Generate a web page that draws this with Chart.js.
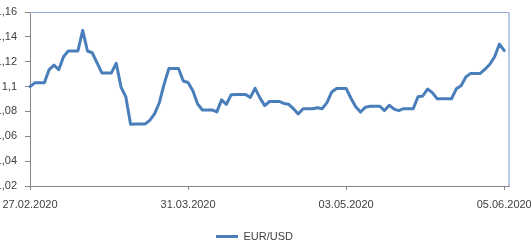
<!DOCTYPE html>
<html><head><meta charset="utf-8">
<script src="https://cdn.jsdelivr.net/npm/chart.js@4/dist/chart.umd.min.js"></script>
<style>html,body{margin:0;padding:0;background:#fff;overflow:hidden}#wrap{width:531px;height:249px;position:relative}</style>
</head><body><div id="wrap"><canvas id="c" width="531" height="249"></canvas></div>
<script>
// Categories: one per calendar day
const dates = [
'27.02.2020','28.02.2020','29.02.2020',
'01.03.2020','02.03.2020','03.03.2020','04.03.2020','05.03.2020','06.03.2020','07.03.2020','08.03.2020','09.03.2020','10.03.2020',
'11.03.2020','12.03.2020','13.03.2020','14.03.2020','15.03.2020','16.03.2020','17.03.2020','18.03.2020','19.03.2020','20.03.2020',
'21.03.2020','22.03.2020','23.03.2020','24.03.2020','25.03.2020','26.03.2020','27.03.2020','28.03.2020','29.03.2020','30.03.2020','31.03.2020',
'01.04.2020','02.04.2020','03.04.2020','04.04.2020','05.04.2020','06.04.2020','07.04.2020','08.04.2020','09.04.2020','10.04.2020',
'11.04.2020','12.04.2020','13.04.2020','14.04.2020','15.04.2020','16.04.2020','17.04.2020','18.04.2020','19.04.2020','20.04.2020',
'21.04.2020','22.04.2020','23.04.2020','24.04.2020','25.04.2020','26.04.2020','27.04.2020','28.04.2020','29.04.2020','30.04.2020',
'01.05.2020','02.05.2020','03.05.2020','04.05.2020','05.05.2020','06.05.2020','07.05.2020','08.05.2020','09.05.2020','10.05.2020',
'11.05.2020','12.05.2020','13.05.2020','14.05.2020','15.05.2020','16.05.2020','17.05.2020','18.05.2020','19.05.2020','20.05.2020',
'21.05.2020','22.05.2020','23.05.2020','24.05.2020','25.05.2020','26.05.2020','27.05.2020','28.05.2020','29.05.2020','30.05.2020','31.05.2020',
'01.06.2020','02.06.2020','03.06.2020','04.06.2020','05.06.2020','06.06.2020'
];
// Series values (EUR/USD), one per day
const eurUsd = [
1.1000,1.1030,1.1030,1.1030,1.1137,1.1172,1.1136,1.1240,1.1286,1.1286,
1.1286,1.1452,1.1286,1.1272,1.1190,1.1110,1.1110,1.1110,1.1188,1.0996,
1.0918,1.0696,1.0698,1.0698,1.0698,1.0728,1.0780,1.0870,1.1020,1.1145,
1.1145,1.1145,1.1045,1.1033,1.0966,1.0860,1.0812,1.0812,1.0812,1.0796,
1.0893,1.0857,1.0935,1.0937,1.0937,1.0937,1.0913,1.0986,1.0909,1.0847,
1.0880,1.0880,1.0880,1.0864,1.0857,1.0822,1.0780,1.0822,1.0822,1.0822,
1.0830,1.0822,1.0871,1.0957,1.0985,1.0985,1.0985,1.0906,1.0838,1.0795,
1.0833,1.0842,1.0842,1.0842,1.0807,1.0850,1.0818,1.0806,1.0822,1.0822,
1.0822,1.0918,1.0924,1.0980,1.0951,1.0902,1.0902,1.0902,1.0902,1.0982,
1.1006,1.1078,1.1106,1.1106,1.1106,1.1140,1.1180,1.1240,1.1342,1.1289
];
const seriesName = 'EUR/USD';
// Tick labels
const xTickIdx = [0, 33, 66, 99];
const yTicks = [1.02, 1.04, 1.06, 1.08, 1.10, 1.12, 1.14, 1.16];

const lineColor = '#4A7EBB';
const axisColor = '#868686';
const textColor = '#404040';

Chart.defaults.font.family = "'Liberation Sans', Arial, sans-serif";
Chart.defaults.font.size = 11;
Chart.defaults.color = textColor;

const plotBorder = {
  id: 'plotBorder',
  afterDatasetsDraw(chart) {
    const {ctx, chartArea: a} = chart;
    ctx.save();
    ctx.lineWidth = 1;
    ctx.strokeStyle = '#8EA9D8';
    ctx.beginPath();
    ctx.moveTo(a.left, Math.round(a.top) + 0.5);
    ctx.lineTo(a.right, Math.round(a.top) + 0.5);
    ctx.stroke();
    ctx.strokeStyle = '#B7CBE8';
    ctx.lineWidth = 2;
    ctx.beginPath();
    ctx.moveTo(Math.round(a.right), a.top);
    ctx.lineTo(Math.round(a.right), a.bottom);
    ctx.stroke();
    ctx.restore();
  }
};

new Chart(document.getElementById('c'), {
  type: 'line',
  data: {
    labels: dates,
    datasets: [{
      label: seriesName,
      data: eurUsd,
      borderColor: lineColor,
      backgroundColor: lineColor,
      borderWidth: 3,
      pointRadius: 0,
      tension: 0,
      borderJoinStyle: 'round',
      borderCapStyle: 'round',
      fill: false
    }]
  },
  options: {
    responsive: false,
    animation: false,
    devicePixelRatio: 1,
    layout: { padding: { top: 12, right: 22, left: 0, bottom: 1 } },
    plugins: {
      tooltip: { enabled: false },
      legend: {
        position: 'bottom',
        maxHeight: 21,
        labels: {
          boxWidth: 22,
          boxHeight: 3,
          padding: 4,
          color: textColor,
          font: { size: 11 },
          generateLabels: (chart) => [{
            text: seriesName, fillStyle: lineColor, strokeStyle: lineColor,
            lineWidth: 0, hidden: false, datasetIndex: 0, fontColor: textColor
          }]
        }
      }
    },
    scales: {
      x: {
        type: 'category',
        grid: { display: true, drawOnChartArea: false, drawTicks: true, tickLength: 4, color: axisColor },
        border: { display: true, color: axisColor, width: 1 },
        ticks: { autoSkip: false, maxRotation: 0, minRotation: 0, padding: 8, color: textColor,
          callback: (v) => dates[v] },
        afterBuildTicks: (s) => { s.ticks = xTickIdx.map(i => ({ value: i })); },
        afterFit: (s) => { s.height = 41; s.paddingLeft = 0; s.paddingRight = 0; }
      },
      y: {
        min: 1.02, max: 1.16,
        grid: { display: true, drawOnChartArea: false, drawTicks: true, tickLength: 5, color: axisColor },
        border: { display: true, color: axisColor, width: 1 },
        ticks: { padding: 8, color: textColor,
          callback: (v) => String(Number(v.toFixed(2))).replace('.', ',') },
        afterBuildTicks: (s) => { s.ticks = yTicks.map(v => ({ value: v })); },
        afterFit: (s) => { s.width = 30; s.paddingTop = 0; s.paddingBottom = 0; }
      }
    }
  },
  plugins: [plotBorder]
});
</script>
</body></html>
